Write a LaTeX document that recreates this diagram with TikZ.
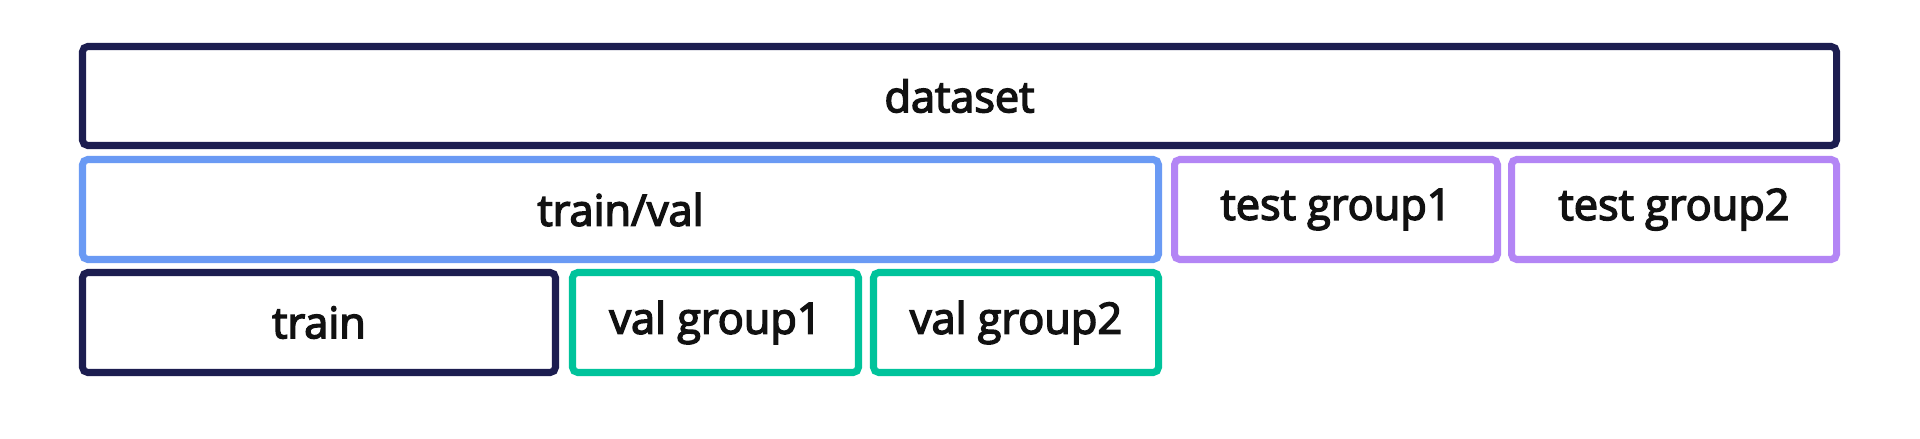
\documentclass[tikz,border=0pt]{standalone}
\usepackage{fontspec}
\setmainfont{Open Sans}
\newfontfamily\labelfont{Open Sans}[FakeBold=3.5]
\definecolor{navy}{HTML}{1C1D50}
\definecolor{splitblue}{HTML}{6A9AF4}
\definecolor{testviolet}{HTML}{B385F5}
\definecolor{valgreen}{HTML}{00C39B}
\definecolor{label}{HTML}{111111}

\begin{document}
\begin{tikzpicture}[
  x=1cm,y=1cm,
  part/.style={draw, fill=white, rounded corners=1.5pt,
    line width=2pt, minimum height=1.0cm, inner sep=0pt,
    text=label, font=\labelfont\fontsize{12.3}{14}\selectfont},
  whole/.style={part, draw=navy},
  trainval/.style={part, draw=splitblue},
  testpart/.style={part, draw=testviolet},
  valpart/.style={part, draw=valgreen}
]
\useasboundingbox[fill=white] (0,0) rectangle (19.2,4.38);

% Top row: the full dataset.
\node[whole, minimum width=17.54cm, minimum height=0.99cm]
  (dataset) at (9.595,3.42) {dataset};

% Middle row: train/val and the held-out test groups.
\node[trainval, minimum width=10.76cm] (trainvalbox) at (6.205,2.285)
  {train/val};
\node[testpart, minimum width=3.23cm] (testA) at (13.36,2.285)
  {test group1};
\node[testpart, minimum width=3.25cm] (testB) at (16.74,2.285)
  {test group2};

% Bottom row: train/val broken down further.
\node[whole, minimum width=4.73cm] (train) at (3.19,1.155) {train};
\node[valpart, minimum width=2.86cm] (valA) at (7.155,1.155)
  {val group1};
\node[valpart, minimum width=2.85cm] (valB) at (10.16,1.155)
  {val group2};

\end{tikzpicture}
\end{document}
